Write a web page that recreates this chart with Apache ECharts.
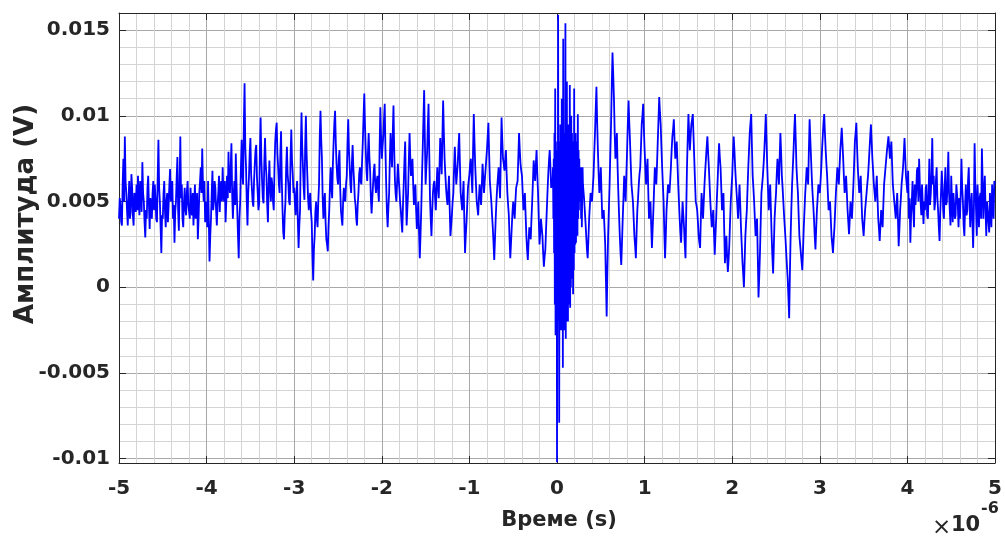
<!DOCTYPE html>
<html><head><meta charset="utf-8">
<script src="https://cdn.jsdelivr.net/npm/echarts@6/dist/echarts.min.js"></script>
<style>html,body{margin:0;padding:0;background:#fff}#c{width:1005px;height:538px}</style>
</head><body><div id="c"></div>
<script>
// Time axis in microseconds (label multiplier ×10^-6), amplitude stored in units of 0.1 mV (1e-4 V)
const xTickLabels = ['-5','-4','-3','-2','-1','0','1','2','3','4','5'];
const yRange = [-0.01025, 0.016];
const xRange = [-5, 5];
const xName = 'Време (s)';
const yName = 'Амплитуда (V)';

// A: t from -5 us, step 1/120 us
const segAStart = -5, segAStep = 1/120;
const segA = [
40,52,48,38,36,60,75,50,88,62,55,45,36,50,62,40,44,66,58,42,36,55,52,44,
60,45,65,50,42,62,58,44,73,55,50,38,29,45,40,58,65,48,34,52,48,40,55,62,
45,60,52,40,38,64,86,58,50,35,20,42,40,55,62,44,35,50,55,38,48,60,69,50,
52,62,40,48,26,44,50,64,76,45,33,60,88,52,60,40,35,50,58,45,42,56,62,48,
48,40,58,45,42,55,36,48,60,40,45,55,28,40,55,62,70,55,81,60,50,62,38,50,
45,35,62,40,15,30,40,55,68,45,50,62,58,45,36,48,55,65,44,58,62,50,70,55,
50,62,38,50,65,52,79,60,55,70,84,55,40,52,62,48,78,60,45,30,17,40,50,70
];

// B: t from -3.6 us, step 1/120 us, up to the burst
const segBStart = -3.6, segBStep = 1/120;
const segB = [
86,66,60,95,119,82,70,50,36,55,64,78,87,66,58,50,47,62,72,80,83,64,55,45,
49,80,99,75,62,52,49,72,87,72,65,48,38,60,74,58,50,64,60,50,45,70,85,92,
96,78,70,60,55,78,91,62,45,32,28,42,50,70,82,66,60,50,48,76,92,74,66,55,
58,48,42,55,62,38,23,36,45,80,102,82,70,58,51,82,100,78,65,52,45,52,55,44,
38,18,4,22,30,44,50,40,35,50,60,88,103,86,75,52,40,50,55,38,28,25,21,36,
45,60,70,58,52,72,85,96,103,84,72,64,60,74,80,58,45,40,36,50,58,52,50,60,
65,84,98,80,70,60,55,72,83,70,62,52,48,40,36,48,55,66,70,62,60,74,85,100,
113,94,80,68,62,78,90,76,68,52,43,52,60,68,72,60,55,62,65,56,50,82,105,88,
75,82,88,98,107,80,60,44,35,46,55,75,90,78,70,90,106,80,62,54,50,62,72,64,
58,50,45,38,32,48,60,74,85,58,36,46,55,74,90,76,65,70,75,60,48,55,60,45,
34,42,50,32,17,30,45,64,80,98,115,86,60,70,78,94,107,78,52,40,30,44,55,60,
62,52,45,58,70,60,52,70,87,76,66,88,109,90,75,66,58,52,48,56,65,46,30,36,
42,50,55,70,82,70,60,66,72,82,90,72,55,50,45,54,62,40,20,30,38,48,58,62,
66,72,75,64,55,80,101,84,70,60,50,46,42,52,60,54,48,60,72,64,55,62,68,74,
80,88,96,78,62,56,50,42,35,26,16,28,40,50,58,64,70,60,52,76,99,86,75,72,
68,74,80,66,55,48,42,28,17,26,35,44,50,45,40,50,58,60,62,76,90,80,72,68,
65,55,45,50,55,42,30,22,16,26,35,32,28,40,50,62,74,68,62,72,80,66,55,40,
25,32,40,35,30,20,12,18,22,34,45,56,66,74,80,70,58,60
];

// burst around t = 0: step 1/240 us
const burstStart = -0.05, burstStep = 1/240;
const burst = [
62,70,40,75, 20,90,-10,116, -28,85,-15,80, -102,70,-20,159,
-15,85,-79,80, -20,95,-25,85, -15,110,-25,85, -47,145,-20,80,
-25,90,-15,154, -30,85,-20,120, -15,85,-20,95, -10,85,-5,118,
-12,85,0,100, 10,90,5,85, -4,85,10,116, 20,85,25,90,
26,85,30,85, 30,101,40,80, 45,75,55,65, 50,70,40,60,
35,55,70,60
];

// C: t from 0.3 us, step 1/120 us
const segCStart = 0.3, segCStep = 1/120;
const segC = [
60,52,45,38,30,22,17,28,40,48,55,52,
50,58,65,78,90,104,117,96,80,66,55,62,70,54,40,42,45,35,25,4,-17,10,30,45,
60,78,95,118,137,124,110,90,75,82,90,70,55,42,30,20,13,26,40,52,65,58,50,66,
80,96,109,96,85,72,60,55,50,40,30,24,17,32,45,52,60,66,70,82,95,100,107,92,
80,70,60,68,75,56,40,46,50,36,23,34,45,58,70,64,60,72,85,98,111,102,95,82,
70,60,50,32,17,30,45,52,60,58,55,62,70,80,88,92,98,86,75,80,85,72,60,50,
40,32,26,38,50,42,35,25,17,44,70,86,101,90,80,88,95,98,101,88,75,62,50,48,
45,38,30,26,23,40,55,48,40,50,60,68,75,82,88,78,70,60,50,42,35,40,45,32,
19,30,40,52,62,74,84,76,70,58,45,50,55,34,14,22,30,18,9,16,25,38,50,58,
65,78,88,80,70,62,55,48,40,50,60,48,35,25,15,8,0,15,30,38,45,58,70,80,
90,96,101,82,65,58,50,40,30,36,40,18,-6,6,20,38,55,60,65,72,80,90,101,86,
70,58,45,52,60,45,30,18,8,24,40,48,55,66,75,68,60,76,90,78,65,58,50,42,
35,28,20,12,5,-6,-18,8,30,46,60,70,80,92,101,86,70,62,55,42,30,25,20,15,
10,22,35,45,55,62,70,66,60,80,98,86,75,64,55,48,40,30,22,34,45,52,60,58,
55,62,70,80,88,96,101,90,80,72,65,55,45,48,50,40,30,25,20,28,35,45,55,62,
70,66,60,70,80,86,93,84,75,64,55,60,65,55,45,38,31,40,50,45,40,50,60,72,
85,90,96,82,70,62,55,60,65,52,40,35,30,38,45,50,55,60,65,72,80,88,95,85,
75,68,60,55,50,58,65,52,40,34,27,36,45,40,35,48,60,65,70,75,80,84,88,82,
75,80,85,72,60,55,50,45,40,48,55,40,24,34,45,52,60,65,70,78,87,76,65,60
];

// D: t from 4.0 us, step 1/120 us
const segDStart = 4.0, segDStep = 1/120;
const segD = [
55,68,40,52,26,42,50,62,45,35,60,48,55,68,70,50,75,60,50,42,60,48,37,50,
45,58,60,42,40,55,75,48,55,66,87,60,65,45,50,62,70,52,45,35,27,44,55,68,
60,45,40,58,70,48,50,62,79,55,45,36,65,50,38,55,55,40,42,60,60,48,35,52,
40,55,75,58,50,36,30,48,60,42,45,62,70,50,35,48,55,38,23,45,84,60,45,30,
60,48,35,52,55,40,81,62,40,55,65,45,30,50,50,38,32,55,45,35,60,48,40,62,60
];

const UNIT = 1e-4;
function seg(start, step, arr) { return arr.map((v, i) => [start + i * step, v * UNIT]); }
const data = [].concat(
  seg(segAStart, segAStep, segA), seg(segBStart, segBStep, segB),
  seg(burstStart, burstStep, burst),
  seg(segCStart, segCStep, segC), seg(segDStart, segDStep, segD));

const FONT = 'DejaVu Sans';
const INK = '#262626';
const MAJOR = '#a8a8a8';
const MINOR = '#d4d4d4';

const chart = echarts.init(document.getElementById('c'), null, {renderer: 'canvas'});
chart.setOption({
  animation: false,
  backgroundColor: '#fff',
  grid: {left: 119, right: 7, top: 13, bottom: 75, containLabel: false},
  xAxis: [{
    type: 'value', min: xRange[0], max: xRange[1], interval: 1, position: 'bottom', z: 2,
    axisLine: {show: true, onZero: false, lineStyle: {color: INK, width: 1}},
    axisTick: {show: true, inside: true, length: 7, lineStyle: {color: INK}},
    axisLabel: {fontSize: 20, fontWeight: 'bold', fontFamily: FONT, color: INK, margin: 16,
      formatter: (v) => xTickLabels[Math.round(v - xRange[0])]},
    splitLine: {show: true, lineStyle: {color: MAJOR, width: 1}},
    minorTick: {show: false, splitNumber: 5},
    minorSplitLine: {show: true, lineStyle: {color: MINOR, width: 1}}
  }, {
    type: 'value', min: xRange[0], max: xRange[1], interval: 1, position: 'top', z: 2,
    axisLine: {show: true, onZero: false, lineStyle: {color: INK, width: 1}},
    axisTick: {show: true, inside: true, length: 7, lineStyle: {color: INK}},
    axisLabel: {show: false}, splitLine: {show: false}
  }],
  yAxis: [{
    type: 'value', min: yRange[0], max: yRange[1], splitNumber: 5, position: 'left', z: 2,
    axisLine: {show: true, onZero: false, lineStyle: {color: INK, width: 1}},
    axisTick: {show: true, inside: true, length: 7, lineStyle: {color: INK}},
    axisLabel: {fontSize: 20, fontWeight: 'bold', fontFamily: FONT, color: INK, margin: 9,
      showMinLabel: false, showMaxLabel: false},
    splitLine: {show: true, lineStyle: {color: MAJOR, width: 1}}
  }, {
    type: 'value', min: yRange[0], max: yRange[1], splitNumber: 26, position: 'left', z: 1,
    axisLine: {show: false}, axisTick: {show: false}, axisLabel: {show: false},
    splitLine: {show: true, lineStyle: {color: MINOR, width: 1}}
  }, {
    type: 'value', min: yRange[0], max: yRange[1], splitNumber: 5, position: 'right', z: 2,
    axisLine: {show: true, onZero: false, lineStyle: {color: INK, width: 1}},
    axisTick: {show: true, inside: true, length: 7, lineStyle: {color: INK}},
    axisLabel: {show: false}, splitLine: {show: false}
  }],
  graphic: [
    {type: 'text', x: 559, y: 521, style: {text: xName, fontSize: 21, fontWeight: 'bold', fontFamily: FONT, fill: INK, align: 'center', verticalAlign: 'middle'}},
    {type: 'text', x: 26, y: 214, rotation: Math.PI / 2, style: {text: yName, fontSize: 26, fontWeight: 'bold', fontFamily: FONT, fill: INK, align: 'center', verticalAlign: 'middle'}},
    {type: 'text', x: 932, y: 517, style: {text: '×', fontSize: 23, fontFamily: FONT, fill: INK}},
    {type: 'text', x: 951, y: 515, style: {text: '10', fontSize: 21, fontWeight: 'bold', fontFamily: FONT, fill: INK}},
    {type: 'text', x: 981, y: 501, style: {text: '-6', fontSize: 16, fontWeight: 'bold', fontFamily: FONT, fill: INK}}
  ],
  series: [{
    type: 'line', xAxisIndex: 0, yAxisIndex: 0, data: data, showSymbol: false, symbol: 'none',
    sampling: null, z: 3,
    lineStyle: {color: '#0000ff', width: 1.8}, itemStyle: {color: '#0000ff'}
  }]
});
</script>
</body></html>
